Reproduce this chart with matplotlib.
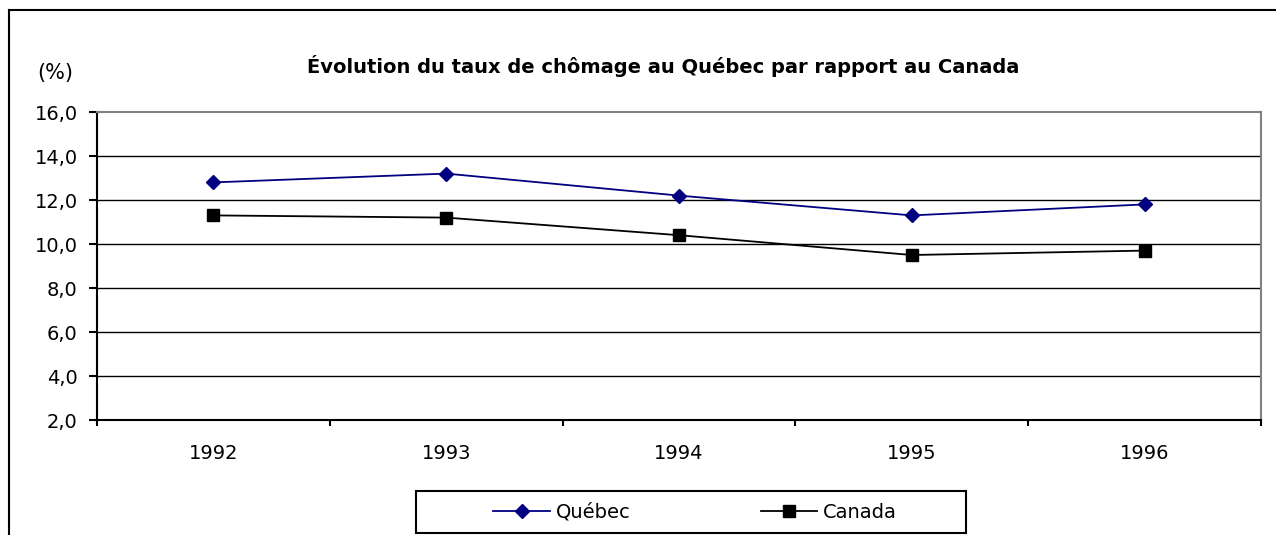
import matplotlib
matplotlib.use("Agg")
import matplotlib.pyplot as plt
from matplotlib.lines import Line2D
from matplotlib.patches import Rectangle
from matplotlib.ticker import FixedLocator, FuncFormatter

plt.rcParams['font.family'] = ['DejaVu Sans']

# données
years = ['1992', '1993', '1994', '1995', '1996']
quebec = [12.8, 13.2, 12.2, 11.3, 11.8]
canada = [11.3, 11.2, 10.4, 9.5, 9.7]
y_ticks = [2, 4, 6, 8, 10, 12, 14, 16]

W, H = 1276, 535
fig = plt.figure(figsize=(W / 100, H / 100), dpi=100)

# cadre extérieur (haut et gauche seulement visibles)
fig.add_artist(Line2D([9 / W, 1.02], [1 - 10 / H, 1 - 10 / H], color='black', lw=1.5))
fig.add_artist(Line2D([9 / W, 9 / W], [-0.02, 1 - 10 / H], color='black', lw=1.5))

ax = fig.add_axes([97 / W, 1 - 420 / H, (1261 - 97) / W, (420 - 112) / H])

x = list(range(len(years)))
ax.plot(x, quebec, color='#000080', lw=1.3, marker='D', markersize=7.5,
        markerfacecolor='#000080', markeredgecolor='#000080', label='Québec', zorder=4)
ax.plot(x, canada, color='black', lw=1.3, marker='s', markersize=8.5,
        markerfacecolor='black', markeredgecolor='black', label='Canada', zorder=4)

for yv in y_ticks[1:-1]:
    ax.axhline(yv, color='black', lw=1.0, zorder=1)

ax.set_xlim(-0.5, len(years) - 0.5)
ax.set_ylim(y_ticks[0], y_ticks[-1])

ax.yaxis.set_major_locator(FixedLocator(y_ticks))
ax.yaxis.set_major_formatter(FuncFormatter(lambda v, p: f"{v:.1f}".replace('.', ',')))
ax.tick_params(axis='y', direction='out', length=6, width=1.5, labelsize=14, pad=8)

# ticks majeurs entre catégories, étiquettes au centre
ax.xaxis.set_major_locator(FixedLocator([i - 0.5 for i in range(len(years) + 1)]))
ax.xaxis.set_major_formatter(FuncFormatter(lambda v, p: ''))
ax.xaxis.set_minor_locator(FixedLocator(x))
ax.set_xticklabels(years, minor=True)
ax.tick_params(axis='x', which='major', direction='out', length=4.5, width=1.5)
ax.tick_params(axis='x', which='minor', length=0, labelsize=14, pad=17)

for s in ['left', 'bottom']:
    ax.spines[s].set_color('black')
    ax.spines[s].set_linewidth(1.5)
for s in ['top', 'right']:
    ax.spines[s].set_color('#808080')
    ax.spines[s].set_linewidth(1.5)

fig.text(37 / W, 1 - 73 / H, '(%)', fontsize=15, va='center', ha='left')
fig.text(663 / W, 1 - 66 / H,
         'Évolution du taux de chômage au Québec par rapport au Canada',
         fontsize=14, fontweight='bold', ha='center', va='center')

# cadre de la légende
fig.add_artist(Rectangle((416 / W, 1 - 533 / H), 550 / W, 42 / H, fill=False,
                         edgecolor='black', lw=1.5, transform=fig.transFigure))
fig.legend(loc='center', bbox_to_anchor=(695 / W, 1 - 512 / H), ncol=2,
           frameon=False, fontsize=14, columnspacing=6.7, handlelength=2.9,
           handletextpad=0.3, borderpad=0.2)

fig.savefig('out.png', dpi=100)
